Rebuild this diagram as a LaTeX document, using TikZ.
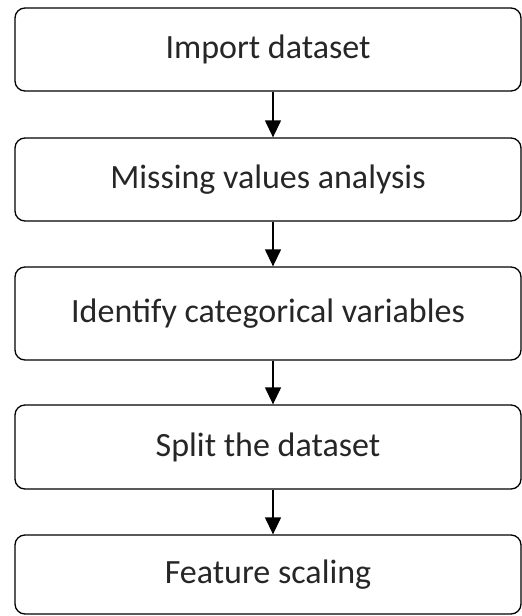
\documentclass[tikz,border=0pt]{standalone}
\usepackage{fontspec}
\setmainfont{Carlito}
\usetikzlibrary{arrows.meta}

\tikzset{stepbox/.style={draw, rounded corners=10pt, line width=1.3pt, minimum width=506pt, inner sep=0pt, text=black!85, font=\fontsize{34}{40}\selectfont}}
\tikzset{flowarrow/.style={-{Triangle[length=17pt,width=16pt]}, line width=1.3pt}}

\begin{document}
\begin{tikzpicture}[x=1pt,y=1pt]
  \useasboundingbox (0,0) rectangle (522,-616);


  \node[stepbox, minimum height=83pt] (import) at (268,-49.5) {Import dataset};

  \node[stepbox, minimum height=83pt] (missing) at (268,-179.5) {Missing values analysis};

  \node[stepbox, minimum height=93pt] (categ) at (268,-313.5) {Identify categorical variables};

  \node[stepbox, minimum height=84pt] (split) at (268,-447) {Split the dataset};

  \node[stepbox, minimum height=79pt] (scaling) at (268,-574.5) {Feature scaling};


  \draw[flowarrow] ([xshift=5pt]import.south) -- ([xshift=5pt]missing.north);
  \draw[flowarrow] ([xshift=5pt]missing.south) -- ([xshift=5pt]categ.north);
  \draw[flowarrow] ([xshift=5pt]categ.south) -- ([xshift=5pt]split.north);
  \draw[flowarrow] ([xshift=5pt]split.south) -- ([xshift=5pt]scaling.north);

\end{tikzpicture}
\end{document}
